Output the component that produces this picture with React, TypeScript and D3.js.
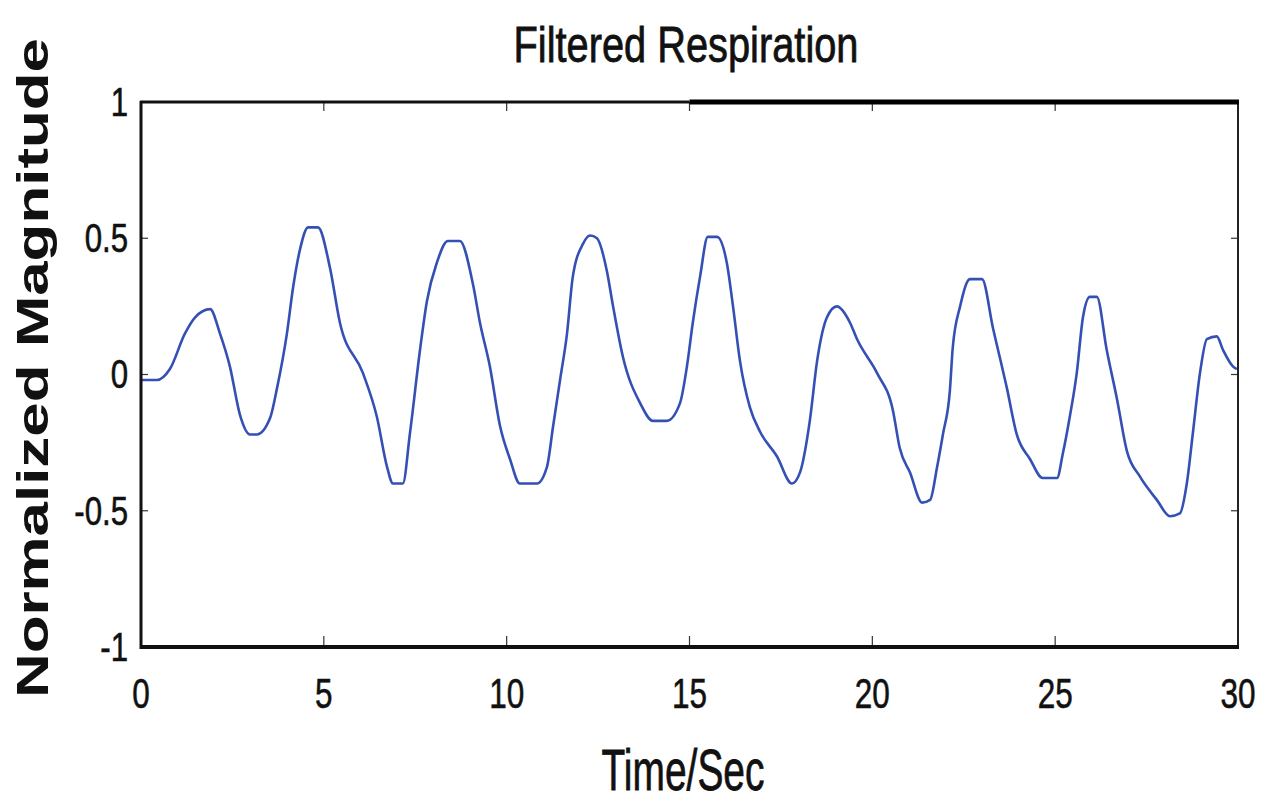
import React from "react";
import * as d3 from "d3";

const timeSec: number[] = [
  0, 0.44, 0.79, 1.2, 1.48, 1.89, 2.16, 2.43, 2.71, 2.98, 3.17, 3.53, 3.72, 3.99, 4.16, 4.35, 4.57, 4.84,
  5.17, 5.44, 6.07, 6.45, 6.73, 6.89, 7.16, 7.36, 7.63, 7.82, 8.09, 8.39, 8.72, 9.08, 9.27, 9.54, 9.82,
  10.09, 10.36, 10.83, 11.1, 11.27, 11.46, 11.65, 11.81, 12.09, 12.28, 12.47, 12.74, 12.91, 13.18, 13.65,
  14.0, 14.38, 14.74, 14.93, 15.09, 15.29, 15.5, 15.75, 16.02, 16.19, 16.38, 16.65, 16.93, 17.39, 17.8,
  18.02, 18.29, 18.49, 18.76, 19.03, 19.39, 19.58, 20.13, 20.56, 20.75, 21.03, 21.36, 21.58, 21.77, 21.93,
  22.12, 22.2, 22.4, 22.67, 23.0, 23.3, 23.68, 23.95, 24.31, 24.66, 25.05, 25.21, 25.4, 25.59, 25.76,
  25.95, 26.14, 26.41, 26.69, 26.96, 27.32, 27.78, 28.14, 28.41, 28.6, 28.77, 28.96, 29.15, 29.42, 29.59,
  29.86, 29.97,
];

const magnitude: number[] = [
  -0.02, -0.02, 0.02, 0.15, 0.21, 0.24, 0.15, 0.03, -0.15, -0.22, -0.22, -0.16, -0.05, 0.15, 0.32, 0.46, 0.54, 0.54,
  0.39, 0.19, 0.005, -0.155, -0.34, -0.4, -0.4, -0.21, 0.09, 0.27, 0.41, 0.49, 0.49, 0.33, 0.19, 0.03, -0.19,
  -0.31, -0.4, -0.4, -0.34, -0.19, -0.02, 0.15, 0.36, 0.48, 0.51, 0.5, 0.38, 0.25, 0.064, -0.105,
  -0.17, -0.17, -0.105, 0.03, 0.19, 0.36, 0.505, 0.505, 0.41, 0.25, 0.05, -0.12, -0.21, -0.3, -0.4,
  -0.36, -0.17, 0.05, 0.21, 0.25, 0.19, 0.13, 0.005, -0.13, -0.27, -0.36, -0.47, -0.46, -0.34, -0.22,
  -0.06, 0.1, 0.25, 0.35, 0.35, 0.17, -0.05, -0.22, -0.31, -0.38, -0.38, -0.29, -0.155, 0.005, 0.21,
  0.285, 0.285, 0.09, -0.09, -0.28, -0.375, -0.46, -0.52, -0.51, -0.4, -0.21, 0.005, 0.13, 0.14, 0.09,
  0.03, 0.02,
];

const xTicks: number[] = [0, 5, 10, 15, 20, 25, 30];
const yTicks: number[] = [-1, -0.5, 0, 0.5, 1];
const yTickLabels: string[] = ["-1", "-0.5", "0", "0.5", "1"];

const TITLE = "Filtered Respiration";
const X_LABEL = "Time/Sec";
const Y_LABEL = "Normalized Magnitude";

export default function App() {
  const left = 141, right = 1238, top = 102, bottom = 647;
  const x = d3.scaleLinear().domain([0, 30]).range([left, right]);
  const y = d3.scaleLinear().domain([-1, 1]).range([bottom, top]);

  const pts: [number, number][] = timeSec.map((t, i) => [t, magnitude[i]]);
  const line = d3
    .line<[number, number]>()
    .x((d) => x(d[0]))
    .y((d) => y(d[1]))
    .curve(d3.curveMonotoneX);

  const font = "'Liberation Sans', Arial, sans-serif";
  const midX = x(15);

  return (
    <svg
      width={1263}
      height={803}
      style={{ position: "absolute", left: 0, top: 0, background: "#fff" }}
    >
      {/* title */}
      <text
        x={686}
        y={62}
        fontFamily={font}
        fontSize={50}
        textAnchor="middle"
        textLength={345}
        lengthAdjust="spacingAndGlyphs"
        fill="#111"
        stroke="#111"
        strokeWidth={0.8}
      >
        {TITLE}
      </text>

      {/* data line */}
      <path d={line(pts) || ""} fill="none" stroke="#3550b4" strokeWidth={2.6} strokeLinejoin="round" />

      {/* ticks */}
      {xTicks.map((t) => (
        <g key={"xt" + t}>
          <line x1={x(t)} x2={x(t)} y1={bottom} y2={bottom - 11} stroke="#333" strokeWidth={1.2} />
          <line x1={x(t)} x2={x(t)} y1={top} y2={top + 9} stroke="#333" strokeWidth={1.2} />
          <text
            x={x(t)}
            y={708}
            fontFamily={font}
            fontSize={42}
            textAnchor="middle"
            fill="#111"
            stroke="#111"
            strokeWidth={0.6}
            transform={`translate(${x(t)},0) scale(0.75,1) translate(${-x(t)},0)`}
          >
            {String(t)}
          </text>
        </g>
      ))}
      {yTicks.map((t, i) => (
        <g key={"yt" + t}>
          <line x1={left} x2={left + 7} y1={y(t)} y2={y(t)} stroke="#333" strokeWidth={1.2} />
          <line x1={right} x2={right - 7} y1={y(t)} y2={y(t)} stroke="#333" strokeWidth={1.2} />
          <text
            x={128}
            y={y(t) + 14}
            fontFamily={font}
            fontSize={40}
            textAnchor="end"
            fill="#111"
            stroke="#111"
            strokeWidth={0.6}
            transform={`translate(128,0) scale(0.78,1) translate(-128,0)`}
          >
            {yTickLabels[i]}
          </text>
        </g>
      ))}

      {/* frame */}
      <line x1={left} x2={left} y1={top - 1} y2={bottom + 2} stroke="#111" strokeWidth={3} />
      <line x1={right} x2={right} y1={top} y2={bottom} stroke="#222" strokeWidth={2} />
      <line x1={left - 1} x2={right + 1} y1={bottom} y2={bottom} stroke="#111" strokeWidth={4} />
      <line x1={left - 1} x2={midX} y1={top} y2={top} stroke="#111" strokeWidth={3} />
      <line x1={midX} x2={right + 1} y1={top} y2={top} stroke="#000" strokeWidth={5} />

      {/* axis labels */}
      <text
        x={683}
        y={790}
        fontFamily={font}
        fontSize={58}
        textAnchor="middle"
        textLength={163}
        lengthAdjust="spacingAndGlyphs"
        fill="#111"
        stroke="#111"
        strokeWidth={0.8}
      >
        {X_LABEL}
      </text>
      <text
        transform={`translate(48,368) rotate(-90)`}
        x={0}
        y={0}
        fontFamily={font}
        fontWeight="bold"
        fontSize={44}
        textAnchor="middle"
        textLength={660}
        lengthAdjust="spacingAndGlyphs"
        fill="#111"
      >
        {Y_LABEL}
      </text>
    </svg>
  );
}
